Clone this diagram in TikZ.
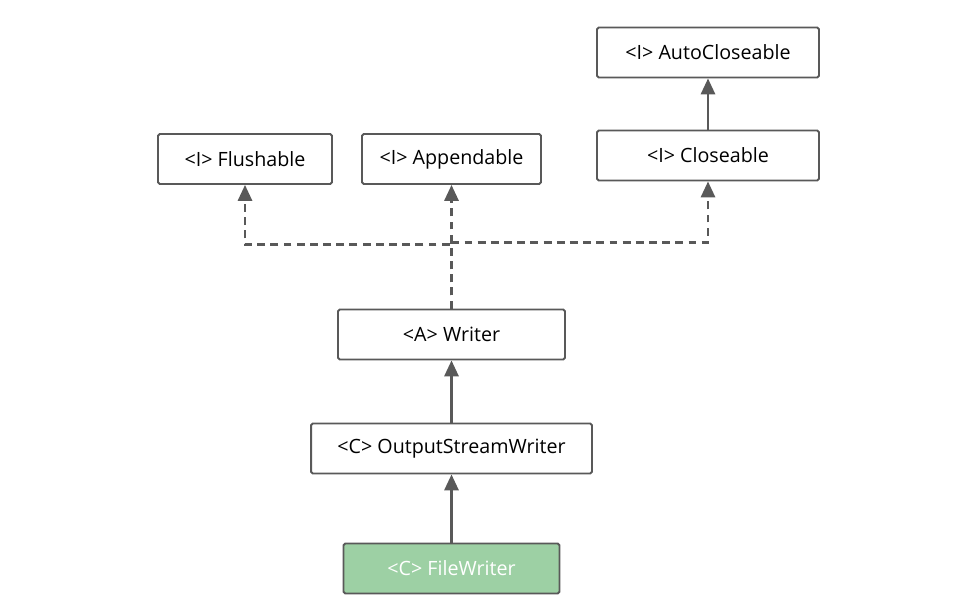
\documentclass[tikz,border=0pt]{standalone}
\usepackage{fontspec}
\setmainfont{Open Sans}
\usetikzlibrary{arrows.meta}
\definecolor{linegray}{HTML}{595959}
\definecolor{filegreen}{HTML}{9DD0A4}

\begin{document}
\begin{tikzpicture}
	[x=0.02cm,y=-0.02cm,
	cls/.style={rectangle,draw=linegray,fill=white,line width=1.1pt,rounded corners=1pt,minimum height=1cm,inner sep=0pt,font=\fontsize{11.2}{13}\selectfont},
	ext/.style={-{Triangle[width=8pt,length=9pt]},draw=linegray,line width=1.4pt},
	impl/.style={ext,dash pattern=on 4.5pt off 3pt}]
	\useasboundingbox (0,0) rectangle (959,615);
	\node[cls,minimum width=4.44cm] (autoclose) at (708,52.5) {<I> AutoCloseable};
	\node[cls,minimum width=3.48cm] (flush) at (245,159) {<I> Flushable};
	\node[cls,minimum width=3.58cm] (append) at (451.5,159) {<I> Appendable};
	\node[cls,minimum width=4.44cm] (close) at (708,155.5) {<I> Closeable};
	\node[cls,minimum width=4.54cm] (writer) at (451.5,334.5) {<A> Writer};
	\node[cls,minimum width=5.62cm] (osw) at (451.5,448.5) {<C> OutputStreamWriter};
	\node[cls,minimum width=4.32cm,fill=filegreen,text=white] (fw) at (451.5,568.5) {<C> FileWriter};
	\draw[ext] (close) -- (autoclose);
	\draw[ext] (osw) -- (writer);
	\draw[ext] (fw) -- (osw);
	\draw[impl] (writer.north) -- ++(0,-64) -| (flush.south);
	\draw[impl] (writer.north) -- (append.south);
	\draw[impl] (writer.north) -- ++(0,-66) -| (close.south);
\end{tikzpicture}
\end{document}
